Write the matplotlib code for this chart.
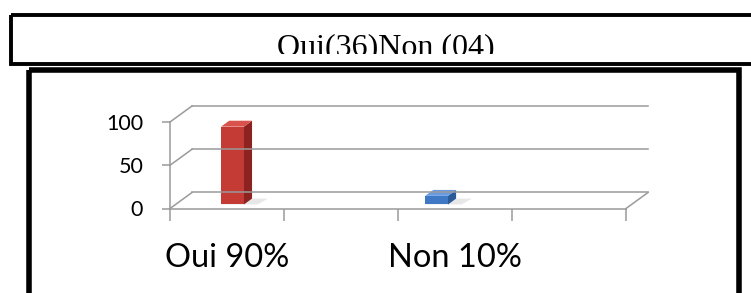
import matplotlib
matplotlib.use("Agg")
import matplotlib.pyplot as plt
from matplotlib.patches import Rectangle, Polygon
from matplotlib.transforms import Bbox, TransformedBbox

# -----------------------------
# Data
# -----------------------------

title_text = "Oui(36)Non (04)"
categories = ["Oui 90%", "", "Non 10%", ""]
bar_slots = [0, 2]
bar_values = [90, 10]
y_ticks = [0, 50, 100]

# -----------------------------
# Style / layout
# -----------------------------

W, H = 751, 293
GRID = "#9a9a9a"
FONT = "Lato"

bar_colors = [
    {"front": "#c33b34", "side": "#8c2320", "top": "#d9534c"},
    {"front": "#3f78c4", "side": "#2b5a99", "top": "#6a9be0"},
]
bar_shift = [0.0, -0.21]   # offset of each bar inside its slot
bar_width = 0.2
depth_x = 0.193            # 3d depth in x units
depth_y = 18.5             # 3d depth in y units
f0, f1 = 0.25, 0.62        # bar depth range (fraction of full depth)

fig = plt.figure(figsize=(W / 100, H / 100), dpi=100)

# background axes in pixel units, for frames and title
bg = fig.add_axes([0, 0, 1, 1])
bg.set_xlim(0, W)
bg.set_ylim(H, 0)
bg.axis("off")

bg.add_patch(Rectangle((11, 14.5), 760, 49, fill=False, ec="black", lw=2.8))
bg.add_patch(Rectangle((28.5, 69.5), 710.5, 240, fill=False, ec="black", lw=4.0))

t = bg.text(385.5, 55, title_text, ha="center", va="baseline",
            fontsize=23, family="Liberation Serif", color="black")
t.set_clip_box(TransformedBbox(Bbox([[0, 0], [W, 53.5]]), bg.transData))
t.set_clip_on(True)

# -----------------------------
# Chart axes
# -----------------------------

ax = fig.add_axes([170 / W, (H - 208.5) / H, 456 / W, 86.5 / H])
ax.set_xlim(0, len(categories))
ax.set_ylim(0, 100)
ax.patch.set_alpha(0)

for s in ["top", "right"]:
    ax.spines[s].set_visible(False)
for s in ["left", "bottom"]:
    ax.spines[s].set_color(GRID)
    ax.spines[s].set_linewidth(1.1)

ax.set_yticks(y_ticks)
ax.set_yticklabels([str(v) for v in y_ticks], fontsize=15.5, family=FONT)
ax.tick_params(axis="y", length=5.8, width=1.1, color=GRID, pad=13.5)

ax.set_xticks(range(len(categories) + 1))
ax.set_xticklabels([])
ax.tick_params(axis="x", which="major", length=8.6, width=1.1, color=GRID)
ax.set_xticks([i + 0.5 for i in range(len(categories))], minor=True)
ax.set_xticklabels(categories, minor=True, fontsize=23.5, family=FONT)
ax.tick_params(axis="x", which="minor", length=0, pad=25)

# back wall gridlines + side diagonals
n = len(categories)
for v in y_ticks:
    ax.plot([0, depth_x], [v, v + depth_y], color=GRID, lw=1.1, clip_on=False)
    ax.plot([depth_x, n + depth_x], [v + depth_y, v + depth_y],
            color=GRID, lw=1.1, clip_on=False)
ax.plot([n, n + depth_x], [0, depth_y], color=GRID, lw=1.1, clip_on=False)

# 3d bars
for slot, val, sh, col in zip(bar_slots, bar_values, bar_shift, bar_colors):
    x0 = slot + 0.5 + sh - bar_width / 2
    x1 = x0 + bar_width
    ax0, ay0 = f0 * depth_x, f0 * depth_y
    ax1, ay1 = f1 * depth_x, f1 * depth_y
    # soft shadow on the floor
    ax.add_patch(Polygon([(x0 + ax0, ay0), (x1 + ax0 + 0.12, ay0),
                          (x1 + ax1 + 0.14, ay1), (x0 + ax1, ay1)],
                         closed=True, fc="#bdbdbd", ec="none", alpha=0.35,
                         clip_on=False))
    ax.add_patch(Polygon([(x1 + ax0, ay0), (x1 + ax1, ay1),
                          (x1 + ax1, val + ay1), (x1 + ax0, val + ay0)],
                         closed=True, fc=col["side"], ec="none", clip_on=False))
    ax.add_patch(Polygon([(x0 + ax0, val + ay0), (x1 + ax0, val + ay0),
                          (x1 + ax1, val + ay1), (x0 + ax1, val + ay1)],
                         closed=True, fc=col["top"], ec="none", clip_on=False))
    ax.add_patch(Rectangle((x0 + ax0, ay0), bar_width, val,
                           fc=col["front"], ec="none", clip_on=False))

fig.savefig("out.png", dpi=100)
